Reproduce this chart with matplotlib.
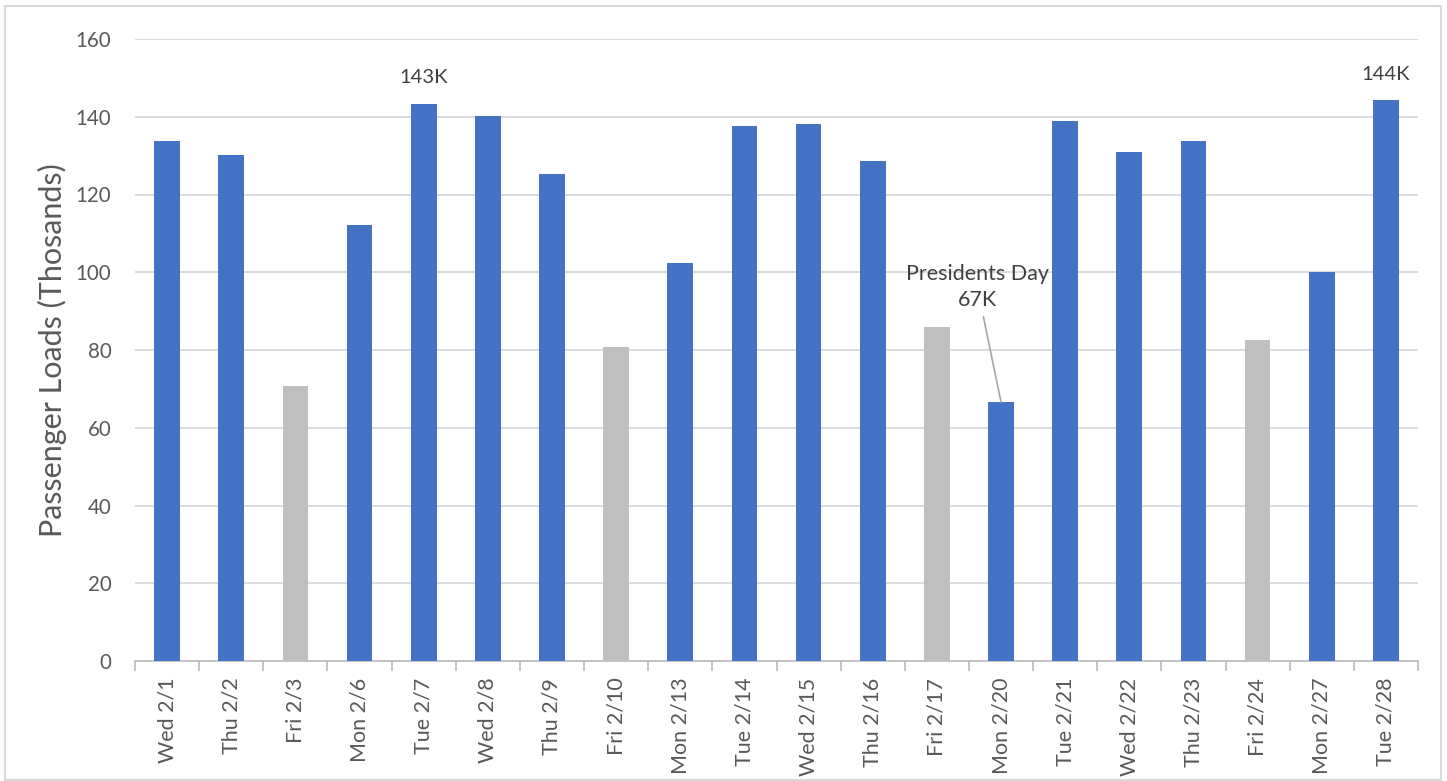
import matplotlib.pyplot as plt
from matplotlib.patches import Rectangle
from matplotlib.ticker import FixedLocator

days = ['Wed 2/1', 'Thu 2/2', 'Fri 2/3', 'Mon 2/6', 'Tue 2/7', 'Wed 2/8', 'Thu 2/9',
        'Fri 2/10', 'Mon 2/13', 'Tue 2/14', 'Wed 2/15', 'Thu 2/16', 'Fri 2/17',
        'Mon 2/20', 'Tue 2/21', 'Wed 2/22', 'Thu 2/23', 'Fri 2/24', 'Mon 2/27', 'Tue 2/28']
loads = [133.8, 130.2, 70.7, 112.2, 143.3, 140.2, 125.3, 80.8, 102.4, 137.6,
         138.1, 128.6, 85.9, 66.6, 138.9, 130.9, 133.8, 82.6, 100.1, 144.3]

blue = '#4472C4'
grey = '#BFBFBF'
txt = '#595959'

plt.rcParams['font.family'] = ['Lato', 'DejaVu Sans']

W, H = 1447, 781
fig = plt.figure(figsize=(W / 100, H / 100), dpi=100)
ax = fig.add_axes([135 / W, (H - 661) / H, (1418 - 135) / W, (661 - 39) / H])

colors = [grey if d.startswith('Fri') else blue for d in days]
x = list(range(len(days)))
ax.bar(x, loads, width=0.4, color=colors, zorder=3)

ax.set_xlim(-0.5, len(days) - 0.5)
ax.set_ylim(0, 160)
ax.set_yticks(range(0, 161, 20))
ax.grid(axis='y', color='#D9D9D9', linewidth=1.3, zorder=0)
ax.set_xticks(x)
ax.set_xticklabels(days, rotation=90, fontsize=15.5, color=txt)
ax.tick_params(axis='x', length=0, pad=12)
ax.xaxis.set_minor_locator(FixedLocator([i - 0.5 for i in range(len(days) + 1)]))
ax.tick_params(axis='x', which='minor', length=7, color='#BFBFBF', width=1.3)
ax.tick_params(axis='y', length=0, pad=17, labelsize=14.8, labelcolor=txt)
for s in ['top', 'right', 'left']:
    ax.spines[s].set_visible(False)
ax.spines['bottom'].set_color('#BFBFBF')
ax.spines['bottom'].set_linewidth(1.3)
ax.set_ylabel('Passenger Loads (Thosands)', fontsize=22, color=txt, va='center')
ax.yaxis.set_label_coords(-0.0647, 0.5)

# data labels
ax.text(4, loads[4] + 4.5, '143K', ha='center', va='bottom', fontsize=14.5, color='#404040')
ax.text(19, loads[19] + 4.5, '144K', ha='center', va='bottom', fontsize=14.5, color='#404040')
ax.annotate('Presidents Day\n67K', xy=(13, loads[13]), xytext=(12.63, 90.3),
            ha='center', va='bottom', fontsize=15.5, color='#404040', linespacing=1.35,
            arrowprops=dict(arrowstyle='-', color='#A6A6A6', lw=1.2, shrinkA=3, shrinkB=0))

# chart frame
fig.patches.append(Rectangle((5 / W, 1 / H), 1436 / W, (H - 7) / H, transform=fig.transFigure,
                             fill=False, edgecolor='#D9D9D9', linewidth=1.5))

fig.savefig('out.png', dpi=100)
